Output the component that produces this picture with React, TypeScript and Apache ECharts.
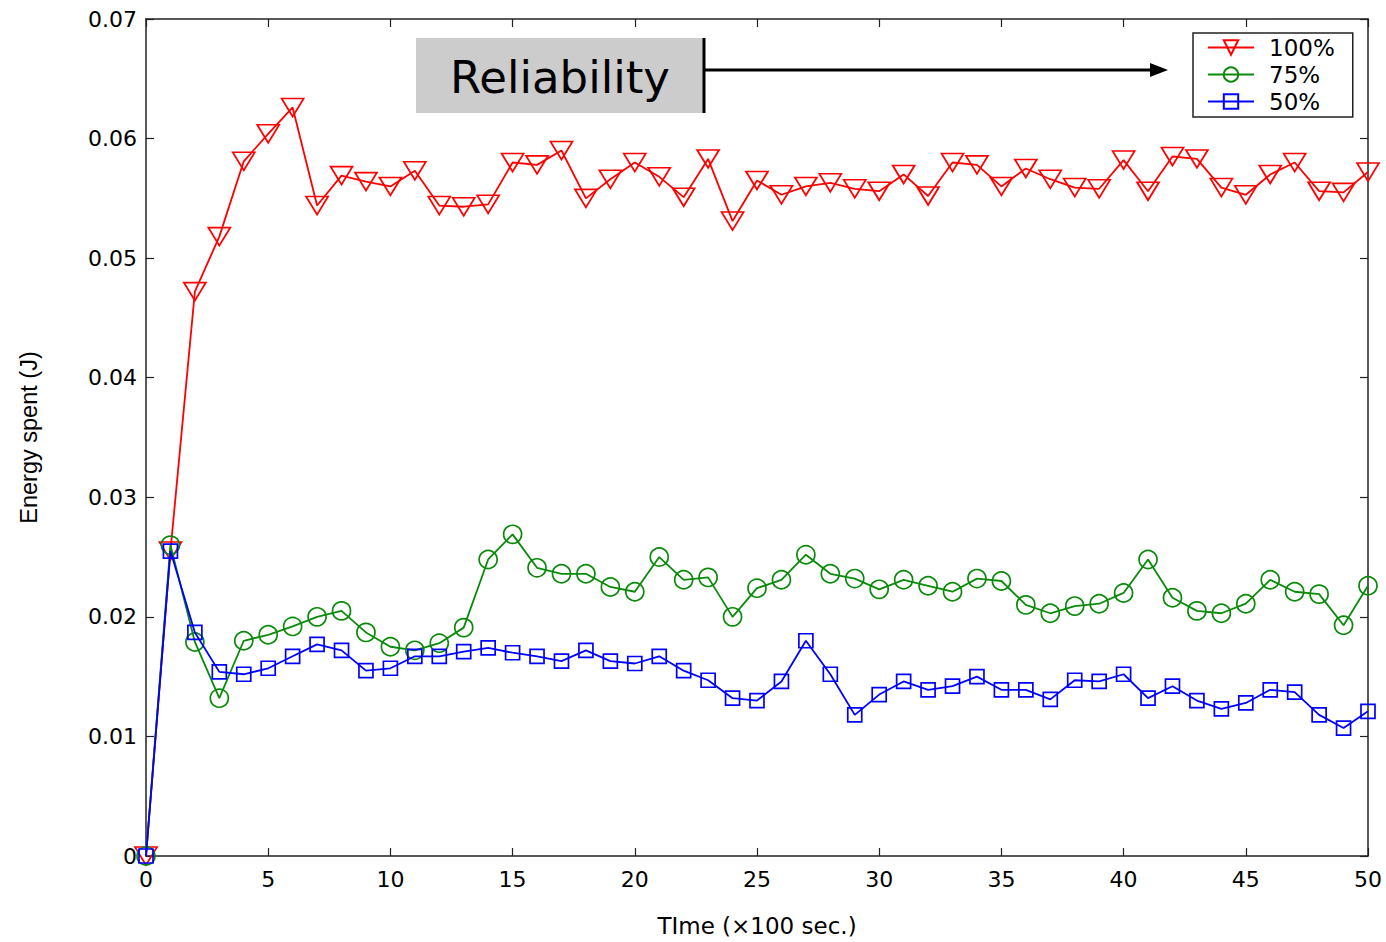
import React, { useEffect, useRef } from "react";
import * as echarts from "echarts";

// Sampling instants (x 100 sec.)
const time = [
  0, 1, 2, 3, 4, 5, 6, 7, 8, 9, 10, 11, 12, 13, 14, 15, 16, 17, 18, 19, 20,
  21, 22, 23, 24, 25, 26, 27, 28, 29, 30, 31, 32, 33, 34, 35, 36, 37, 38, 39,
  40, 41, 42, 43, 44, 45, 46, 47, 48, 49, 50,
];

// Energy spent (J) per reliability level
const energy100 = [
  0, 0.0255, 0.0472, 0.0518, 0.0581, 0.0604, 0.0626, 0.0544, 0.0569, 0.0564,
  0.056, 0.0573, 0.0544, 0.0543, 0.0545, 0.058, 0.0578, 0.059, 0.055, 0.0566,
  0.058, 0.0568, 0.0551, 0.0583, 0.0531, 0.0565, 0.0553, 0.056, 0.0563, 0.0558,
  0.0556, 0.057, 0.0552, 0.058, 0.0578, 0.056, 0.0575, 0.0566, 0.0559, 0.0558,
  0.0582, 0.0556, 0.0585, 0.0583, 0.0559, 0.0553, 0.057, 0.058, 0.0556, 0.0555,
  0.0572,
];
const energy75 = [
  0, 0.026, 0.0179, 0.0132, 0.018, 0.0185, 0.0192, 0.02, 0.0205, 0.0187,
  0.0175, 0.0172, 0.0178, 0.0191, 0.0248, 0.0269, 0.0241, 0.0236, 0.0236,
  0.0225, 0.0221, 0.025, 0.0231, 0.0233, 0.02, 0.0224, 0.0231, 0.0252, 0.0236,
  0.0232, 0.0223, 0.0231, 0.0226, 0.0221, 0.0232, 0.023, 0.021, 0.0203, 0.0209,
  0.0211, 0.022, 0.0248, 0.0216, 0.0205, 0.0203, 0.0211, 0.0231, 0.0221,
  0.0219, 0.0193, 0.0226,
];
const energy50 = [
  0, 0.0255, 0.0187, 0.0154, 0.0152, 0.0157, 0.0167, 0.0177, 0.0172, 0.0155,
  0.0157, 0.0167, 0.0167, 0.0171, 0.0174, 0.017, 0.0167, 0.0163, 0.0172,
  0.0163, 0.0161, 0.0167, 0.0155, 0.0147, 0.0132, 0.013, 0.0146, 0.018, 0.0152,
  0.0118, 0.0135, 0.0146, 0.0139, 0.0142, 0.015, 0.0139, 0.0139, 0.0131,
  0.0147, 0.0146, 0.0152, 0.0132, 0.0142, 0.013, 0.0123, 0.0128, 0.0139,
  0.0137, 0.0118, 0.0107, 0.0121,
];

const seriesNames = ["100%", "75%", "50%"];

const TICK_FONT = '"DejaVu Sans", "Liberation Sans", sans-serif';
const NAME_FONT = '"Liberation Sans", Arial, Helvetica, sans-serif';
const AXIS_COLOR = "#222";

const pairs = (ys: number[]) => ys.map((v, i) => [time[i], v]);

export default function App() {
  const ref = useRef<HTMLDivElement>(null);

  useEffect(() => {
    if (!ref.current) return;
    const chart = echarts.init(ref.current, undefined, { renderer: "svg" });

    const tickInside = () => ({
      show: true,
      inside: true,
      length: 8,
      lineStyle: { color: AXIS_COLOR, width: 1.2 },
    });
    const axisLine = () => ({
      show: true,
      onZero: false,
      lineStyle: { color: AXIS_COLOR, width: 1.5 },
    });

    const marker = (color: string, symbol: string, size: number | number[]) => ({
      type: "line" as const,
      symbol,
      symbolSize: size,
      showAllSymbol: true,
      lineStyle: { color, width: 1.8 },
      itemStyle: { color: "rgba(255,255,255,0)", borderColor: color, borderWidth: 1.7 },
      emphasis: { disabled: true },
    });

    chart.setOption({
      animation: false,
      backgroundColor: "#ffffff",
      grid: { left: 146, right: 18, top: 19, bottom: 82, containLabel: false },
      legend: {
        orient: "vertical",
        left: 1193,
        top: 33,
        padding: [3, 18, 4, 14],
        itemGap: 4,
        itemWidth: 46,
        itemHeight: 18,
        borderColor: AXIS_COLOR,
        borderWidth: 1.5,
        backgroundColor: "#fff",
        data: seriesNames,
        textStyle: {
          fontFamily: TICK_FONT,
          fontSize: 23,
          color: "#000",
          padding: [0, 0, 0, 10],
        },
      },
      xAxis: [
        {
          type: "value",
          min: 0,
          max: 50,
          interval: 5,
          position: "bottom",
          name: "TIme (\u00d7100 sec.)",
          nameLocation: "middle",
          nameGap: 58,
          nameTextStyle: { fontFamily: TICK_FONT, fontSize: 23, color: "#000" },
          axisLine: axisLine(),
          axisTick: tickInside(),
          splitLine: { show: false },
          axisLabel: { fontFamily: TICK_FONT, fontSize: 22, color: "#000", margin: 12 },
        },
        {
          type: "value",
          min: 0,
          max: 50,
          interval: 5,
          position: "top",
          axisLine: axisLine(),
          axisTick: tickInside(),
          splitLine: { show: false },
          axisLabel: { show: false },
        },
      ],
      yAxis: [
        {
          type: "value",
          min: 0,
          max: 0.07,
          interval: 0.01,
          position: "left",
          name: "Energy spent (J)",
          nameLocation: "middle",
          nameGap: 105,
          nameRotate: 90,
          nameTextStyle: { fontFamily: NAME_FONT, fontSize: 23.5, color: "#000" },
          axisLine: axisLine(),
          axisTick: tickInside(),
          splitLine: { show: false },
          axisLabel: {
            fontFamily: TICK_FONT,
            fontSize: 22,
            color: "#000",
            margin: 9,
            formatter: (v: number) => (v === 0 ? "0" : v.toFixed(2)),
          },
        },
        {
          type: "value",
          min: 0,
          max: 0.07,
          interval: 0.01,
          position: "right",
          axisLine: axisLine(),
          axisTick: tickInside(),
          splitLine: { show: false },
          axisLabel: { show: false },
        },
      ],
      series: [
        {
          name: seriesNames[0],
          ...marker("#ff0000", "path://M0,0 L20,0 L10,16 Z", [22, 18]),
          data: pairs(energy100),
          z: 2,
        },
        {
          name: seriesNames[1],
          ...marker("#0a8a0a", "circle", 18),
          data: pairs(energy75),
          z: 3,
        },
        {
          name: seriesNames[2],
          ...marker("#0000ff", "rect", 14),
          data: pairs(energy50),
          z: 4,
        },
      ],
      graphic: [
        {
          type: "rect",
          shape: { x: 416, y: 38, width: 288, height: 75 },
          style: { fill: "#cccccc" },
          z: 10,
        },
        {
          type: "text",
          x: 560,
          y: 77,
          style: {
            text: "Reliability",
            fontFamily: '"Comic Sans MS", "DejaVu Sans", sans-serif',
            fontSize: 45,
            fill: "#000",
            align: "center",
            verticalAlign: "middle",
          },
          z: 11,
        },
        {
          type: "line",
          shape: { x1: 704, y1: 38, x2: 704, y2: 113 },
          style: { stroke: "#000", lineWidth: 3 },
          z: 11,
        },
        {
          type: "line",
          shape: { x1: 704, y1: 70, x2: 1152, y2: 70 },
          style: { stroke: "#000", lineWidth: 3 },
          z: 11,
        },
        {
          type: "polygon",
          shape: { points: [[1150, 63], [1168, 70], [1150, 77]] },
          style: { fill: "#000" },
          z: 11,
        },
      ],
    });

    return () => chart.dispose();
  }, []);

  return (
    <div
      ref={ref}
      style={{ position: "absolute", left: 0, top: 0, width: 1386, height: 942 }}
    />
  );
}
